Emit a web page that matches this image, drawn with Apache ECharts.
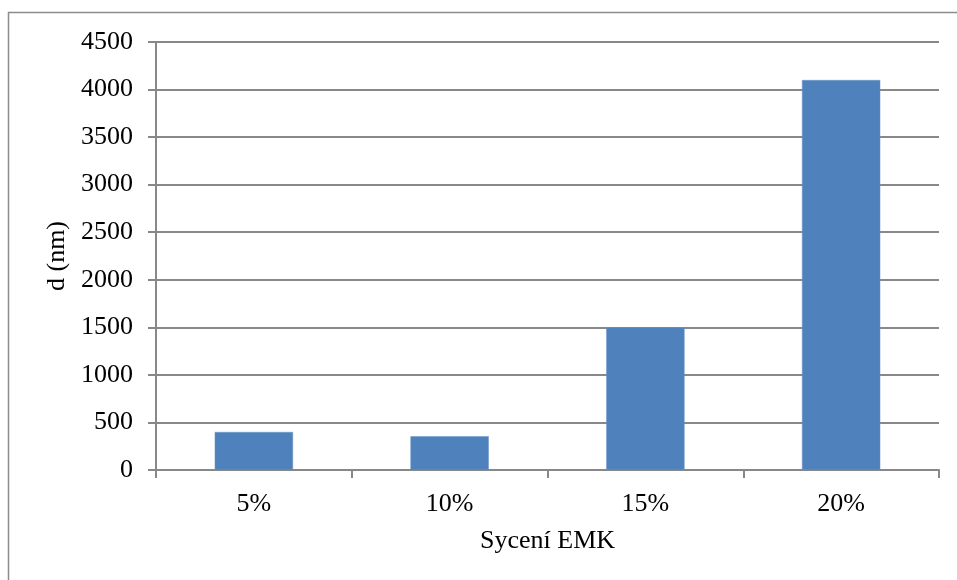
<!DOCTYPE html>
<html>
<head>
<meta charset="utf-8">
<script src="https://cdn.jsdelivr.net/npm/echarts@6/dist/echarts.min.js"></script>
<style>
  html, body { margin: 0; padding: 0; background: #ffffff; }
  #chart { width: 957px; height: 580px; }
</style>
</head>
<body>
<div id="chart"></div>
<script>
// Particle size by EMK saturation
const categories = ['5%', '10%', '15%', '20%'];
const sizes = [400, 355, 1500, 4100];
const yTicks = { min: 0, max: 4500, interval: 500 };

const axisGray = '#888888';
const fontFamily = '"Liberation Serif", "Times New Roman", serif';
const fontSize = 26;

const chart = echarts.init(document.getElementById('chart'), null, { renderer: 'canvas' });
chart.setOption({
  animation: false,
  backgroundColor: '#ffffff',
  graphic: [{
    type: 'rect',
    shape: { x: 8.5, y: 12.5, width: 1000, height: 1000 },
    style: { fill: 'none', stroke: '#8c8c8c', lineWidth: 1.5 },
    silent: true
  }],
  grid: { left: 156, right: 18, top: 42, bottom: 110 },
  xAxis: {
    type: 'category',
    data: categories,
    name: 'Sycení EMK',
    nameLocation: 'middle',
    nameGap: 58,
    nameTextStyle: { fontFamily, fontSize, color: '#000' },
    axisLine: { lineStyle: { color: axisGray, width: 2 } },
    axisTick: { show: true, length: 8, lineStyle: { color: axisGray, width: 2 } },
    axisLabel: { fontFamily, fontSize, color: '#000', margin: 21 }
  },
  yAxis: {
    type: 'value',
    min: yTicks.min,
    max: yTicks.max,
    interval: yTicks.interval,
    name: 'd (nm)',
    nameLocation: 'middle',
    nameGap: 85,
    nameRotate: 90,
    nameTextStyle: { fontFamily, fontSize, color: '#000' },
    axisLine: { show: true, lineStyle: { color: axisGray, width: 2 } },
    axisTick: { show: true, length: 8, lineStyle: { color: axisGray, width: 2 } },
    axisLabel: { fontFamily, fontSize, color: '#000', margin: 23, formatter: v => String(v) },
    splitLine: { show: true, lineStyle: { color: axisGray, width: 2 } }
  },
  series: [{
    type: 'bar',
    data: sizes,
    barWidth: '40%',
    itemStyle: { color: '#4F81BD', borderColor: '#6a95c9', borderWidth: 0.5 }
  }]
});
</script>
</body>
</html>
